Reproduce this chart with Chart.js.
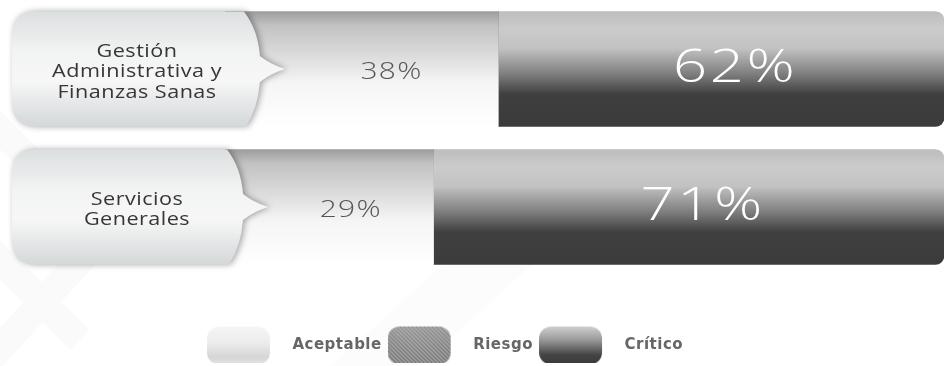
<!DOCTYPE html>
<html lang="es">
<head>
<meta charset="utf-8">
<title>Nivel de riesgo por área</title>
<script src="https://cdn.jsdelivr.net/npm/chart.js@4.4.1/dist/chart.umd.min.js"></script>
<style>
  html, body { margin: 0; padding: 0; background: #fff; }
</style>
</head>
<body>
<canvas id="riskChart" width="947" height="366"></canvas>
<script>
// Chart data
const categories = [['Gestión', 'Administrativa y', 'Finanzas Sanas'], ['Servicios', 'Generales']];
const aceptable = [38, 29];
const riesgo = [0, 0];
const critico = [62, 71];
const seriesNames = ['Aceptable', 'Riesgo', 'Crítico'];

const FONT = "'DejaVu Sans', sans-serif";
const WIDE_FONT = "'Open Sans', sans-serif";
const BAR_H = 115;

// Vertical gradient stops for each segment
const lightStops = [[0, '#9c9c9c'], [0.12, '#c2c2c2'], [0.35, '#d8d8d8'], [0.62, '#f5f5f5'], [1, '#ffffff']];
const darkStops = [[0, '#bdbdbd'], [0.15, '#cbcbcb'], [0.32, '#c2c2c2'], [0.55, '#7c7c7c'], [0.72, '#3f3f3f'], [1, '#3b3b3b']];
const boxStops = [[0, '#dcdfe0'], [0.35, '#f2f3f3'], [0.6, '#f7f7f7'], [1, '#d4d8d9']];

function makeGradient(ctx, top, bottom, stops) {
    const g = ctx.createLinearGradient(0, top, 0, bottom);
    stops.forEach(s => g.addColorStop(s[0], s[1]));
    return g;
}

// backgroundColor callback: gradient follows the bar's own band
function barFill(stops) {
    return function(context) {
        const chart = context.chart;
        const yScale = chart.scales.y;
        if (!yScale || context.dataIndex === undefined) return stops[stops.length - 1][1];
        const cy = yScale.getPixelForValue(context.dataIndex);
        return makeGradient(chart.ctx, cy - BAR_H / 2, cy + BAR_H / 2, stops);
    };
}

// stretched text, to get closer to the wide geometric face of the original
function wideText(ctx, text, x, y, sx) {
    ctx.save();
    ctx.scale(sx, 1);
    ctx.fillText(text, x / sx, y);
    ctx.restore();
}

// Legend swatches (pill shapes drawn to small canvases)
function makePill(kind) {
    const c = document.createElement('canvas');
    c.width = 78;
    c.height = 40;
    const g = c.getContext('2d');
    const x = 0, y = 1, w = 63, h = 38;
    g.beginPath();
    g.roundRect(x, y, w, h, 12);
    let grad = g.createLinearGradient(0, y, 0, y + h);
    if (kind === 0) {
        grad.addColorStop(0, '#f6f6f6');
        grad.addColorStop(0.45, '#ececec');
        grad.addColorStop(0.8, '#d6d6d6');
        grad.addColorStop(1, '#e4e4e4');
    } else if (kind === 1) {
        grad.addColorStop(0, '#8e8e8e');
        grad.addColorStop(1, '#6e6e6e');
    } else {
        grad.addColorStop(0, '#cfcfcf');
        grad.addColorStop(0.35, '#9a9a9a');
        grad.addColorStop(0.75, '#444444');
        grad.addColorStop(1, '#3a3a3a');
    }
    g.fillStyle = grad;
    g.fill();
    if (kind === 1) {
        g.save();
        g.clip();
        g.strokeStyle = 'rgba(200,200,200,0.75)';
        g.lineWidth = 1.2;
        for (let i = -50; i < 80; i += 4) {
            g.beginPath();
            g.moveTo(i, y);
            g.lineTo(i + h, y + h);
            g.stroke();
        }
        g.restore();
    }
    return c;
}
const pills = [makePill(0), makePill(1), makePill(2)];

// Label boxes, percentages and background watermark
const overlayPlugin = {
    id: 'overlay',
    beforeUpdate(chart) {
        chart.ctx.letterSpacing = '0.5px';
    },
    afterLayout(chart) {
        // nudge the legend a little left, as in the original
        chart.legend.left -= 27;
        chart.legend.right -= 27;
    },
    beforeDraw(chart) {
        const ctx = chart.ctx;
        ctx.save();
        ctx.fillStyle = '#ffffff';
        ctx.fillRect(0, 0, chart.width, chart.height);
        ctx.strokeStyle = 'rgba(0,0,0,0.018)';
        ctx.lineWidth = 28;
        ctx.beginPath();
        ctx.moveTo(-10, 250); ctx.lineTo(80, 340);
        ctx.moveTo(90, 250); ctx.lineTo(-20, 370);
        ctx.moveTo(-10, 120); ctx.lineTo(40, 170);
        ctx.stroke();
        ctx.fillStyle = 'rgba(0,0,0,0.012)';
        ctx.beginPath();
        ctx.moveTo(330, 366); ctx.lineTo(470, 240); ctx.lineTo(560, 240); ctx.lineTo(420, 366);
        ctx.closePath();
        ctx.fill();
        ctx.restore();
        ctx.letterSpacing = '0.5px';
    },
    afterDatasetsDraw(chart) {
        const ctx = chart.ctx;
        const metaA = chart.getDatasetMeta(0);
        const metaC = chart.getDatasetMeta(2);
        const sx = 1.2;
        categories.forEach((lines, i) => {
            const barA = metaA.data[i];
            const barC = metaC.data[i];
            const cy = barA.y;
            const T = cy - barA.height / 2;
            const B = cy + barA.height / 2;

            ctx.save();
            ctx.font = `500 18px ${WIDE_FONT}`;
            ctx.letterSpacing = '0.4px';
            const tw = Math.max(...lines.map(l => ctx.measureText(l).width)) * sx;
            const L = 12;
            const R = L + Math.max(231, tw + 78);
            const r = 24;

            // speech-bubble box
            ctx.beginPath();
            ctx.moveTo(L + r, T);
            ctx.lineTo(R - 16, T);
            ctx.quadraticCurveTo(R - 2, T + 18, R, cy - 13);
            ctx.quadraticCurveTo(R + 10, cy - 5, R + 25, cy);
            ctx.quadraticCurveTo(R + 10, cy + 5, R, cy + 13);
            ctx.quadraticCurveTo(R - 2, B - 18, R - 14, B);
            ctx.lineTo(L + r, B);
            ctx.quadraticCurveTo(L, B, L, B - r);
            ctx.lineTo(L, T + r);
            ctx.quadraticCurveTo(L, T, L + r, T);
            ctx.closePath();
            ctx.shadowColor = 'rgba(0,0,0,0.35)';
            ctx.shadowBlur = 6;
            ctx.shadowOffsetX = 2;
            ctx.fillStyle = makeGradient(ctx, T, B, boxStops);
            ctx.fill();
            ctx.shadowColor = 'transparent';

            ctx.fillStyle = '#363636';
            ctx.textAlign = 'center';
            ctx.textBaseline = 'middle';
            const lh = 20.5;
            lines.forEach((line, k) => {
                wideText(ctx, line, 137, cy + 3 + (k - (lines.length - 1) / 2) * lh, sx);
            });

            // percentages
            ctx.fillStyle = '#555555';
            ctx.font = `300 23px ${WIDE_FONT}`;
            ctx.letterSpacing = '1px';
            wideText(ctx, aceptable[i] + '%', (R + 25 + barA.x) / 2, cy + 3, 1.3);

            ctx.fillStyle = '#ffffff';
            ctx.font = `300 46px ${WIDE_FONT}`;
            ctx.letterSpacing = '2px';
            wideText(ctx, critico[i] + '%', (barC.base + barC.x) / 2 + 14, cy, 1.3);
            ctx.restore();
        });
    }
};

const ctx = document.getElementById('riskChart').getContext('2d');
new Chart(ctx, {
    type: 'bar',
    data: {
        labels: categories,
        datasets: [
            {
                label: seriesNames[0],
                data: aceptable,
                backgroundColor: barFill(lightStops),
                borderWidth: 0,
                borderRadius: 0
            },
            {
                label: seriesNames[1],
                data: riesgo,
                backgroundColor: '#7d7d7d',
                borderWidth: 0
            },
            {
                label: seriesNames[2],
                data: critico,
                backgroundColor: barFill(darkStops),
                borderWidth: 0,
                borderRadius: { topLeft: 0, bottomLeft: 0, topRight: 9, bottomRight: 9 },
                borderSkipped: false
            }
        ]
    },
    options: {
        indexAxis: 'y',
        responsive: false,
        animation: false,
        barThickness: BAR_H,
        layout: { padding: { top: 0, right: 3, bottom: 3, left: 0 } },
        scales: {
            x: { stacked: true, min: 0, max: 100, display: false },
            y: {
                stacked: true,
                grid: { display: false },
                border: { display: false },
                ticks: { display: false },
                afterFit: scale => { scale.width = 225; }
            }
        },
        plugins: {
            tooltip: { enabled: false },
            legend: {
                position: 'bottom',
                title: { display: true, text: '', padding: { top: 44, bottom: 0 }, font: { size: 10 } },
                labels: {
                    usePointStyle: true,
                    pointStyleWidth: 78,
                    padding: 6,
                    color: '#828282',
                    font: { family: FONT, size: 15, weight: 'bold' },
                    generateLabels: () => seriesNames.map((name, i) => ({
                        text: name,
                        pointStyle: pills[i],
                        fillStyle: 'transparent',
                        strokeStyle: 'transparent',
                        lineWidth: 0,
                        hidden: false,
                        datasetIndex: i
                    }))
                }
            }
        }
    },
    plugins: [overlayPlugin]
});
</script>
</body>
</html>
